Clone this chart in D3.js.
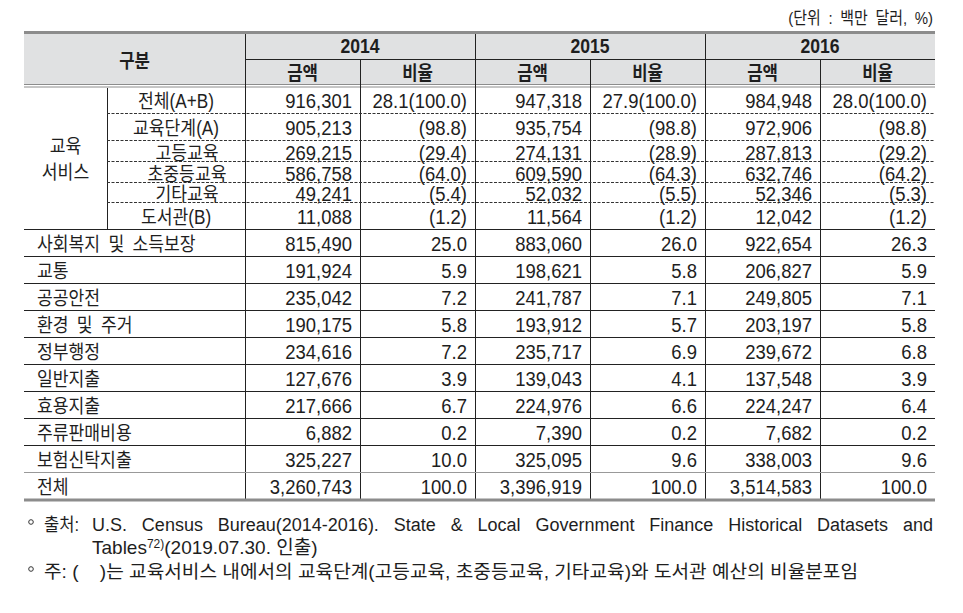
<!DOCTYPE html>
<html>
<head>
<meta charset="utf-8">
<script src="https://cdn.jsdelivr.net/npm/d3@7"></script>
<style>
body { margin: 0; background: #fff; }
text { font-family: 'Liberation Sans', 'Noto Sans CJK KR', sans-serif; fill: #1e1e1e; }
</style>
</head>
<body>
<div class="main"></div>
<script>
// data
var years = ['2014', '2015', '2016'];
var subHeads = ['금액', '비율'];

var eduRows = ['전체(A+B)', '교육단계(A)', '고등교육', '초중등교육', '기타교육', '도서관(B)'];
var eduLevel = [0, 0, 1, 1, 1, 0];
var eduAmount = [
    [916301, 947318, 984948],
    [905213, 935754, 972906],
    [269215, 274131, 287813],
    [586758, 609590, 632746],
    [49241, 52032, 52346],
    [11088, 11564, 12042]
];
var eduShare = [28.1, 27.9, 28.0];  // only first row has an overall share
var eduInner = [
    [100.0, 100.0, 100.0],
    [98.8, 98.8, 98.8],
    [29.4, 28.9, 29.2],
    [64.0, 64.3, 64.2],
    [5.4, 5.5, 5.3],
    [1.2, 1.2, 1.2]
];

var otherRows = ['사회복지 및 소득보장', '교통', '공공안전', '환경 및 주거', '정부행정',
    '일반지출', '효용지출', '주류판매비용', '보험신탁지출', '전체'];
var otherAmount = [
    [815490, 883060, 922654],
    [191924, 198621, 206827],
    [235042, 241787, 249805],
    [190175, 193912, 203197],
    [234616, 235717, 239672],
    [127676, 139043, 137548],
    [217666, 224976, 224247],
    [6882, 7390, 7682],
    [325227, 325095, 338003],
    [3260743, 3396919, 3514583]
];
var otherRatio = [
    [25.0, 26.0, 26.3],
    [5.9, 5.8, 5.9],
    [7.2, 7.1, 7.1],
    [5.8, 5.7, 5.8],
    [7.2, 6.9, 6.8],
    [3.9, 4.1, 3.9],
    [6.7, 6.6, 6.4],
    [0.2, 0.2, 0.2],
    [10.0, 9.6, 9.6],
    [100.0, 100.0, 100.0]
];

var unitText = '(단위 : 백만 달러, %)';
var sourceLine1 = 'U.S. Census Bureau(2014-2016). State & Local Government Finance Historical Datasets and';
var noteText = '주: (\u00a0\u00a0\u00a0\u00a0)는 교육서비스 내에서의 교육단계(고등교육, 초중등교육, 기타교육)와 도서관 예산의 비율분포임';

// layout
var options = { width: 963, height: 613 };
var tLeft = 24, tRight = 935, catSplit = 107, colStart = 245;
var tTop = 33, headMid = 59, headBot = 86, tBottom = 499.5;
var eduH = [27, 27, 21, 21, 20, 27];
var SX = 0.88;
var fmtAmt = d3.format(',');
var fmtPct = d3.format('.1f');

var svg = d3.select('.main')
    .append('svg')
    .attr('width', options.width)
    .attr('height', options.height);

var x = d3.scaleBand().domain(years).range([colStart, tRight]);
var xSub = d3.scaleBand().domain(subHeads).range([0, x.bandwidth()]);

var eduTop = [headBot];
eduH.forEach(function (h, i) { eduTop.push(eduTop[i] + h); });
var eduBot = eduTop[eduTop.length - 1];
var y = d3.scaleBand().domain(otherRows).range([eduBot, tBottom]);

function put(g, px, py, str, anchor, size, weight) {
    return g.append('text')
        .attr('transform', 'translate(' + px + ',' + py + ') scale(' + SX + ',1)')
        .attr('text-anchor', anchor)
        .style('font-size', size + 'px')
        .style('font-weight', weight || 'normal')
        .style('word-spacing', '4px')
        .text(str);
}

function hline(x1, x2, yy, color, w, dash) {
    svg.append('line')
        .attr('x1', x1).attr('x2', x2).attr('y1', yy).attr('y2', yy)
        .style('stroke', color).style('stroke-width', w)
        .style('stroke-dasharray', dash || null);
}
function vline(xx, y1, y2, color, w) {
    svg.append('line')
        .attr('x1', xx).attr('x2', xx).attr('y1', y1).attr('y2', y2)
        .style('stroke', color).style('stroke-width', w || 1);
}

// header background
svg.append('rect')
    .attr('x', tLeft).attr('y', tTop)
    .attr('width', tRight - tLeft).attr('height', headBot - tTop - 2)
    .style('fill', '#e0e1e2');

// unit
put(svg, 933, 24, unitText, 'end', 17);

// borders
hline(tLeft, tRight, 32.5, '#8c8c8c', 3);
hline(tLeft, tRight, 84.5, '#8c8c8c', 1);
hline(tLeft, tRight, 87, '#8c8c8c', 1);
hline(colStart, tRight, headMid + 0.5, '#222', 1);

years.forEach(function (yr) {
    vline(x(yr) + 0.5, tTop + 1, tBottom, '#222');
    vline(x(yr) + xSub('비율') + 0.5, headMid, tBottom + 1.5, '#222');
});
vline(catSplit + 0.5, 88, eduBot, '#222');

// education row lines
eduTop.slice(1, -1).forEach(function (t) {
    hline(catSplit, tRight, t + 0.5, '#333', 1, '3,1.5');
});
hline(tLeft, tRight, eduBot + 0.5, '#222', 1);
otherRows.slice(1).forEach(function (r, i) {
    var last = i === otherRows.length - 2;
    hline(tLeft, tRight, Math.round(y(r)) + 0.5, last ? '#999' : '#222', last ? 1.2 : 1);
});
hline(tLeft, tRight, 500, '#8c8c8c', 3);

// header text
put(svg, (tLeft + colStart) / 2, 68, '구분', 'middle', 19, 'bold');
years.forEach(function (yr) {
    put(svg, x(yr) + x.bandwidth() / 2, 53, yr, 'middle', 20, 'bold');
    subHeads.forEach(function (s) {
        put(svg, x(yr) + xSub(s) + xSub.bandwidth() / 2, 80, s, 'middle', 19, 'bold');
    });
});

// 교육서비스 block
put(svg, (tLeft + catSplit) / 2, 153, '교육', 'middle', 19.5);
put(svg, (tLeft + catSplit) / 2, 179, '서비스', 'middle', 19.5);

var gEdu = svg.append('g');
eduRows.forEach(function (r, i) {
    var base = eduTop[i] + Math.min(22, eduH[i] - 1.5);
    put(gEdu, (catSplit + colStart) / 2 + eduLevel[i] * 11, base, r, 'middle', 19.5);
    years.forEach(function (yr, j) {
        put(gEdu, x(yr) + xSub.bandwidth() - 8, base, fmtAmt(eduAmount[i][j]), 'end', 21);
        var pct = '(' + fmtPct(eduInner[i][j]) + ')';
        if (i === 0) pct = fmtPct(eduShare[j]) + pct;
        put(gEdu, x(yr) + x.bandwidth() - 8, base, pct, 'end', 21);
    });
});

// other rows
var gRows = svg.selectAll('.row')
    .data(otherRows)
    .enter()
    .append('g')
    .attr('class', 'row');

gRows.each(function (r, i) {
    var g = d3.select(this);
    var base = y(r) + 22;
    put(g, 37, base, r, 'start', 19.5);
    years.forEach(function (yr, j) {
        put(g, x(yr) + xSub.bandwidth() - 8, base, fmtAmt(otherAmount[i][j]), 'end', 21);
        put(g, x(yr) + x.bandwidth() - 8, base, fmtPct(otherRatio[i][j]), 'end', 21);
    });
});

// footnotes
var gNote = svg.append('g').style('font-size', '18px');
function bullet(yy) {
    gNote.append('circle')
        .attr('cx', 31).attr('cy', yy - 9).attr('r', 2.3)
        .style('fill', 'none').style('stroke', '#333').style('stroke-width', 1);
}
bullet(531);
gNote.append('text')
    .attr('transform', 'translate(44,531) scale(0.92,1)')
    .text('출처:');
var src = gNote.append('text')
    .attr('x', 92).attr('y', 531)
    .text(sourceLine1);
var natural = src.node().getComputedTextLength();
var gaps = sourceLine1.split(' ').length - 1;
src.style('word-spacing', Math.max(0, (933 - 92 - natural) / gaps) + 'px');

var line2 = gNote.append('text')
    .attr('x', 92).attr('y', 554)
    .style('font-size', '19px');
line2.append('tspan').text('Tables');
line2.append('tspan').attr('dy', -6).style('font-size', '12px').text('72)');
line2.append('tspan').attr('dy', 6).text('(2019.07.30. 인출)');

bullet(578);
gNote.append('text')
    .attr('x', 44).attr('y', 578)
    .attr('textLength', 858 - 44)
    .attr('lengthAdjust', 'spacingAndGlyphs')
    .text(noteText);
</script>
</body>
</html>
